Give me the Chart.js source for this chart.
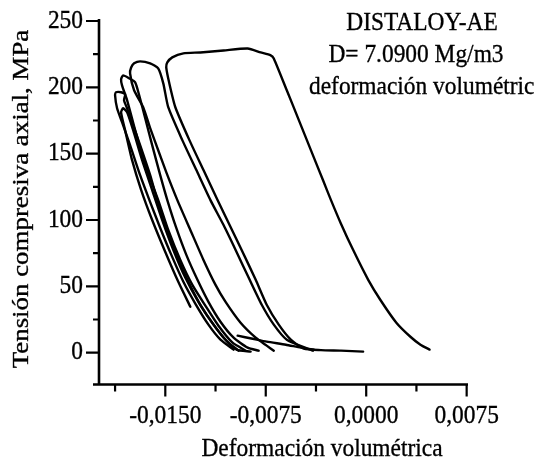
<!DOCTYPE html>
<html><head><meta charset="utf-8">
<script src="https://cdn.jsdelivr.net/npm/chart.js@4/dist/chart.umd.min.js"></script>
<style>html,body{margin:0;padding:0;background:#fff}</style>
</head><body>
<canvas id="c" width="539" height="465"></canvas>
<script>
// ---- data (volumetric strain, axial stress MPa) ----
const loopE_strain = [0.00473,0.00405,0.0033,0.00225,0.00105,0.00015,-0.00098,-0.00191,-0.00263,-0.00323,-0.00413,-0.00503,-0.00593,-0.0069,-0.00713,-0.00788,-0.00885,-0.01065,-0.01238,-0.01365,-0.01448,-0.01485,-0.01493,-0.0147,-0.01425,-0.0132,-0.01215,-0.0111,-0.0102,-0.0093,-0.00825,-0.00743,-0.00653,-0.00563,-0.00465,-0.00338,-0.00188,-0.00023];
const loopE_stress = [2.3,6.0,12.0,22.6,39.9,54.9,77.5,97.8,115.0,130.1,152.7,175.3,197.8,221.8,224.1,226.3,229.3,227.8,226.3,225.6,222.6,218.8,215.0,203.0,185.0,160.2,137.6,115.0,96.2,77.4,54.9,36.1,21.1,9.8,3.0,1.9,1.5,0.8];

const loopD_strain = [-0.00398,-0.00593,-0.0069,-0.0078,-0.0087,-0.00975,-0.01065,-0.01163,-0.01268,-0.01373,-0.01478,-0.01515,-0.01553,-0.01613,-0.01688,-0.01733,-0.01755,-0.01763,-0.01733,-0.01665,-0.01613,-0.01553,-0.01493,-0.0141,-0.01313,-0.01215,-0.01125,-0.0105,-0.00938,-0.00825,-0.00743,-0.0069];
const loopD_stress = [1.5,9.8,21.1,36.1,54.9,77.4,96.2,115.0,137.6,160.2,185.0,203.0,214.3,218.1,219.6,218.1,215.0,210.5,197.8,185.0,169.2,152.6,136.1,115.0,92.5,69.9,51.1,38.3,22.6,11.3,5.3,1.5];

const loopB_strain = [-0.009,-0.00998,-0.01103,-0.012,-0.01298,-0.01388,-0.01478,-0.01553,-0.0165,-0.01725,-0.01785,-0.01823,-0.0183,-0.01815,-0.0177,-0.01725,-0.01695,-0.0165,-0.01598,-0.01538,-0.01485,-0.01418,-0.01343,-0.0126,-0.01178,-0.01088,-0.0099,-0.00885,-0.00803];
const loopB_stress = [1.5,7.5,20.3,35.3,51.1,69.9,92.5,115.0,141.4,167.7,190.2,201.5,206.0,209.0,206.8,203.8,194.0,176.7,156.4,133.8,115.0,94.0,73.7,54.9,38.3,23.3,11.3,3.8,1.5];

const loopA_strain = [-0.0099,-0.01088,-0.01178,-0.01275,-0.01365,-0.01455,-0.01538,-0.01613,-0.01688,-0.01763,-0.01823,-0.0186,-0.01875,-0.01868,-0.0183,-0.018,-0.01808,-0.01785,-0.01748,-0.01688,-0.01613,-0.0156,-0.015,-0.01418,-0.01328,-0.01238,-0.0114,-0.01043,-0.00953];
const loopA_stress = [2.3,9.8,21.1,36.8,53.4,73.7,94.0,113.5,133.8,156.4,173.7,184.2,194.0,196.3,196.3,194.8,190.2,184.2,173.7,156.4,133.8,115.0,96.2,73.7,53.4,36.1,21.1,9.0,1.5];

const loop0_strain = [-0.01313,-0.01403,-0.015,-0.01598,-0.0168,-0.01748,-0.018,-0.0183,-0.01815,-0.01785,-0.0174,-0.01673,-0.01598,-0.01523,-0.0144,-0.0135,-0.01253,-0.01155,-0.01058,-0.00968,-0.00863];
const loop0_stress = [34.6,53.4,75.9,100.0,122.6,145.1,167.7,181.2,184.2,181.2,167.7,145.1,122.6,100.0,77.4,56.4,38.3,23.3,10.5,2.3,0.8];

const tail_strain = [-0.0096,-0.00848,-0.00743,-0.006,-0.00488,-0.0039];
const tail_stress = [12.8,10.5,8.3,6.0,3.8,2.3];

// ---- axis ticks ----
const xTickValues = [-0.01875,-0.015,-0.01125,-0.0075,-0.00375,0,0.00375,0.0075];
const xTickMajor  = [false,true,false,true,false,true,false,true];
const xTickLabels = ['','-0,0150','','-0,0075','','0,0000','','0,0075'];
const yTickValues = [-24,0,25,50,75,100,125,150,175,200,225,250];
const yTickMajor  = [false,true,false,true,false,true,false,true,false,true,false,true];
const yTickLabels = ['','0','','50','','100','','150','','200','','250'];

const titleLines = ['DISTALOY-AE','D= 7.0900 Mg/m3','deformación volumétric'];
const xTitle = 'Deformación volumétrica';
const yTitle = 'Tensión compresiva axial, MPa';

const SERIF = '"Liberation Serif", "Times New Roman", serif';

function pts(xs, ys){ return xs.map((x,i)=>({x:x, y:ys[i]})); }
function ds(xs, ys){
  return {data: pts(xs, ys), showLine:true, borderColor:'#000', borderWidth:2.4,
          pointRadius:0, fill:false, tension:0.2, borderJoinStyle:'round', borderCapStyle:'round'};
}

function txt(ctx, s, x, y, size, align, sx, rot){
  ctx.save();
  ctx.translate(x, y);
  if (rot) ctx.rotate(rot);
  ctx.scale(sx, 1);
  ctx.font = size + 'px ' + SERIF;
  ctx.textAlign = align;
  ctx.textBaseline = 'middle';
  ctx.lineWidth = 0.35;
  ctx.fillText(s, 0, 0);
  ctx.strokeText(s, 0, 0);
  ctx.restore();
}

const overlay = {
  id:'overlay',
  afterDraw(chart){
    const ctx = chart.ctx, ca = chart.chartArea;
    const xs = chart.scales.x, ys = chart.scales.y;
    ctx.save();
    ctx.strokeStyle = '#000'; ctx.fillStyle = '#000';
    ctx.lineWidth = 2.6;
    ctx.beginPath();
    ctx.moveTo(ca.left, ys.getPixelForValue(250) - 2);
    ctx.lineTo(ca.left, ca.bottom);
    ctx.moveTo(ca.left - 6, ca.bottom);
    ctx.lineTo(ca.right, ca.bottom);
    ctx.stroke();
    ctx.lineWidth = 2.2;
    ctx.beginPath();
    xTickValues.forEach((v,i)=>{
      const p = xs.getPixelForValue(v);
      ctx.moveTo(p, ca.bottom);
      ctx.lineTo(p, ca.bottom + (xTickMajor[i] ? 12 : 7));
    });
    yTickValues.forEach((v,i)=>{
      if (v < 0) return;
      const p = ys.getPixelForValue(v);
      ctx.moveTo(ca.left, p);
      ctx.lineTo(ca.left - (yTickMajor[i] ? 13 : 6), p);
    });
    ctx.stroke();
    // tick labels
    xTickValues.forEach((v,i)=>{
      if (xTickLabels[i]) txt(ctx, xTickLabels[i], xs.getPixelForValue(v), 416, 26, 'center', 0.9);
    });
    yTickValues.forEach((v,i)=>{
      if (yTickLabels[i]) txt(ctx, yTickLabels[i], 83, ys.getPixelForValue(v), 26, 'right', 0.9);
    });
    // titles
    txt(ctx, titleLines[0], 422, 23, 26, 'center', 0.9);
    txt(ctx, titleLines[1], 416, 55, 26, 'center', 0.9);
    txt(ctx, titleLines[2], 309, 87, 26, 'left', 0.9);
    txt(ctx, xTitle, 322, 449, 26, 'center', 0.9);
    txt(ctx, yTitle, 22, 199, 24, 'center', 1.12, -Math.PI/2);
    ctx.restore();
  }
};

new Chart(document.getElementById('c'), {
  type:'scatter',
  data:{ datasets:[
    ds(loopE_strain, loopE_stress),
    ds(loopD_strain, loopD_stress),
    ds(loopB_strain, loopB_stress),
    ds(loopA_strain, loopA_stress),
    ds(loop0_strain, loop0_stress),
    ds(tail_strain, tail_stress)
  ]},
  options:{
    responsive:false, animation:false, devicePixelRatio:1,
    layout:{padding:{top:21, right:71, left:0, bottom:0}},
    plugins:{legend:{display:false}, tooltip:{enabled:false}},
    scales:{
      x:{type:'linear', min:-0.01995, max:0.0076,
         grid:{display:false}, border:{display:false},
         afterBuildTicks(s){ s.ticks = xTickValues.map(v=>({value:v})); },
         afterFit(s){ s.height = 80.5; },
         ticks:{display:false}},
      y:{type:'linear', min:-24, max:250,
         grid:{display:false}, border:{display:false},
         afterBuildTicks(s){ s.ticks = yTickValues.map(v=>({value:v})); },
         afterFit(s){ s.width = 99; },
         ticks:{display:false}}
    }
  },
  plugins:[overlay]
});
</script>
</body></html>
